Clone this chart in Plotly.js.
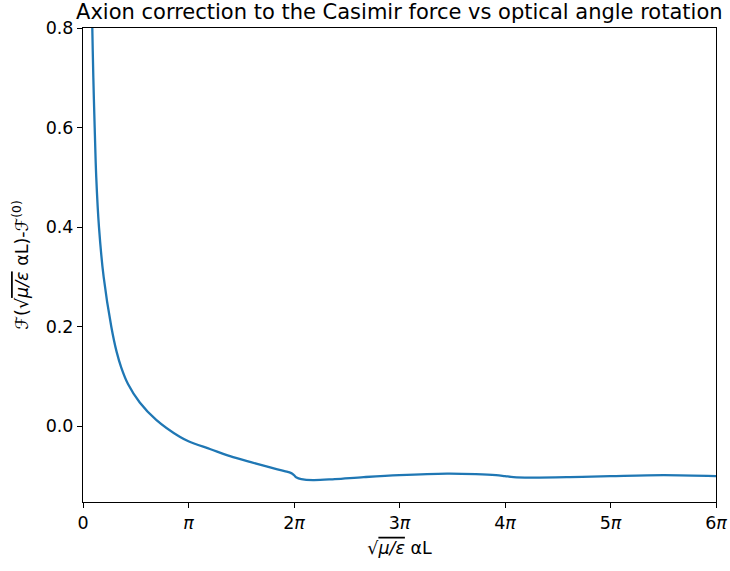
<!DOCTYPE html>
<html>
<head>
<meta charset="utf-8">
<script src="https://cdn.plot.ly/plotly-3.0.1.min.js"></script>
<style>html,body{margin:0;padding:0;background:#fff;}#chart{width:730px;height:571px;}</style>
</head>
<body>
<div id="chart"></div>
<script>
// x values: sqrt(mu/eps)*alpha*L (radians); y values: F - F(0)
const xValues = [0.25, 0.277, 0.308, 0.348, 0.395, 0.476, 0.615, 0.843, 1.0, 1.14, 1.34, 1.69, 2.18, 2.88, 3.14, 3.8, 4.38, 5.0, 5.6, 6.0, 6.2, 6.283, 6.36, 6.5, 6.85, 7.5, 8.36, 9.42, 10.84, 11.7, 12.3, 12.566, 12.82, 13.32, 14.5, 15.7, 17.3, 18.85];
const yValues = [0.9, 0.8, 0.7, 0.6, 0.5, 0.4, 0.3, 0.2, 0.15, 0.118, 0.085, 0.048, 0.013, -0.021, -0.03, -0.046, -0.06, -0.072, -0.083, -0.09, -0.094, -0.098, -0.103, -0.106, -0.108, -0.106, -0.102, -0.098, -0.095, -0.096, -0.098, -0.1, -0.102, -0.103, -0.102, -0.1, -0.098, -0.1];
const xTickMultiples = [0, 1, 2, 3, 4, 5, 6];
const xTickLabels = ['0', '<i>π</i>', '2<i>π</i>', '3<i>π</i>', '4<i>π</i>', '5<i>π</i>', '6<i>π</i>'];
const yTickValues = [0.0, 0.2, 0.4, 0.6, 0.8];
const yTickLabels = ['0.0', '0.2', '0.4', '0.6', '0.8'];

const font = {family: 'DejaVu Sans', size: 17.5, color: '#000'};
const trace = {
  x: xValues, y: yValues, type: 'scatter', mode: 'lines',
  line: {color: '#1f77b4', width: 2.3, shape: 'spline', smoothing: 1},
  hoverinfo: 'none'
};
const axisCommon = {
  showline: true, mirror: true, linecolor: '#000', linewidth: 1,
  ticks: 'outside', ticklen: 5, tickwidth: 1, tickcolor: '#000',
  showgrid: false, zeroline: false, tickfont: font
};
const layout = {
  width: 730, height: 571,
  margin: {l: 83, r: 14, t: 28, b: 69},
  paper_bgcolor: '#fff', plot_bgcolor: '#fff',
  showlegend: false,
  title: {text: 'Axion correction to the Casimir force vs optical angle rotation',
          font: {family: 'DejaVu Sans', size: 21, color: '#000'},
          x: 0.547, xanchor: 'center', y: 0.966, yanchor: 'bottom'},
  xaxis: Object.assign({}, axisCommon, {
    range: [0, 6 * Math.PI],
    tickmode: 'array',
    tickvals: xTickMultiples.map(k => k * Math.PI),
    ticktext: xTickLabels,
    title: {text: '√<span style="text-decoration:overline"><i>μ/ε</i></span> αL', font: font, standoff: 9}
  }),
  yaxis: Object.assign({}, axisCommon, {
    range: [-0.152, 0.8],
    tickmode: 'array',
    tickvals: yTickValues,
    ticktext: yTickLabels,
    title: {text: 'ℱ(√<span style="text-decoration:overline"><i>μ/ε</i></span> αL)-ℱ<sup>(0)</sup>', font: font, standoff: 12}
  })
};
Plotly.newPlot('chart', [trace], layout, {staticPlot: true, displayModeBar: false});
</script>
</body>
</html>
